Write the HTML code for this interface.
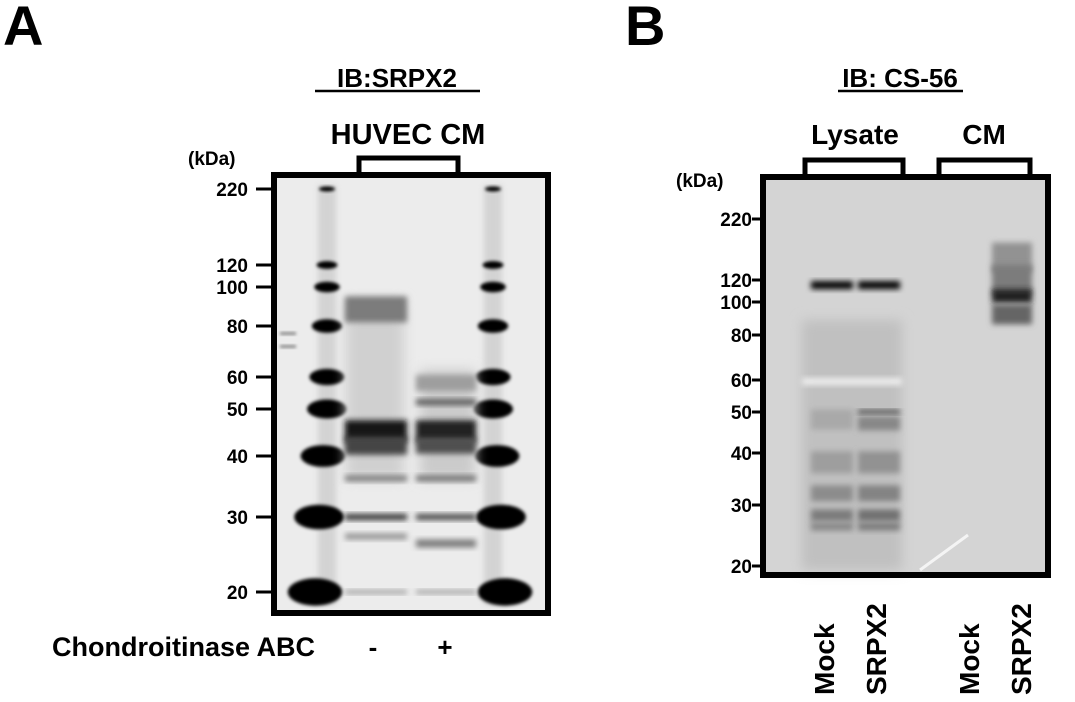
<!DOCTYPE html>
<html><head><meta charset="utf-8"><style>
html,body{margin:0;padding:0;background:#fff;}
svg{display:block;font-family:"Liberation Sans",Arial,sans-serif;font-weight:bold;}
</style></head><body>
<svg id="fig" width="1075" height="702" viewBox="0 0 1075 702">
<defs>
<filter id="b1" x="-50%" y="-50%" width="200%" height="200%"><feGaussianBlur stdDeviation="1.5"/></filter>
<filter id="b3" x="-50%" y="-50%" width="200%" height="200%"><feGaussianBlur stdDeviation="3"/></filter>
<filter id="b6" x="-50%" y="-50%" width="200%" height="200%"><feGaussianBlur stdDeviation="6"/></filter>
</defs>
<text x="3" y="45" font-size="56">A</text>
<text x="625" y="45" font-size="56">B</text>
<text x="397" y="87" font-size="26" text-anchor="middle">IB:SRPX2</text>
<line x1="315" y1="91" x2="480" y2="91" stroke="#000" stroke-width="2.5"/>
<text x="900" y="87" font-size="26" text-anchor="middle">IB: CS-56</text>
<line x1="838" y1="91" x2="963" y2="91" stroke="#000" stroke-width="2.5"/>
<text x="408" y="144" font-size="29" text-anchor="middle">HUVEC CM</text>
<path d="M359 172 V158 H458 V172" fill="none" stroke="#000" stroke-width="5"/>
<text x="855" y="144" font-size="28" text-anchor="middle">Lysate</text>
<path d="M805 174 V160 H903 V174" fill="none" stroke="#000" stroke-width="5"/>
<text x="984" y="144" font-size="28" text-anchor="middle">CM</text>
<path d="M939 174 V160 H1030 V174" fill="none" stroke="#000" stroke-width="5"/>
<text x="188" y="165" font-size="19">(kDa)</text>
<text x="676" y="187" font-size="19">(kDa)</text>
<rect x="274" y="175" width="274" height="438" fill="#ececec"/>
<rect x="763" y="177" width="285" height="398" fill="#d4d4d4"/>
<g id="gA"></g><g id="gB"></g>
<rect x="274" y="175" width="274" height="438" fill="none" stroke="#000" stroke-width="6"/>
<rect x="763" y="177" width="285" height="398" fill="none" stroke="#000" stroke-width="6"/>
<g id="axA"></g><g id="axB"></g>
<text x="52" y="656" font-size="27">Chondroitinase ABC</text>
<text x="373" y="656" font-size="26" text-anchor="middle">-</text>
<text x="445" y="656" font-size="26" text-anchor="middle">+</text>
<g font-size="28">
<text transform="translate(834,695) rotate(-90)">Mock</text>
<text transform="translate(886,695) rotate(-90)">SRPX2</text>
<text transform="translate(979,695) rotate(-90)">Mock</text>
<text transform="translate(1031,695) rotate(-90)">SRPX2</text>
</g>
</svg>
<script>
const markersA = [220,120,100,80,60,50,40,30,20];
const markersB = [220,120,100,80,60,50,40,30,20];
// sample bands: [kDa, intensity(0-1), thickness]
const laneMinus = [[88,0.45,26],[45,0.9,22],[42,0.7,18],[36,0.45,6],[30,0.8,6],[27,0.35,6],[20,0.3,4]];
const lanePlus = [[58,0.3,16],[52,0.6,6],[45,0.85,22],[42,0.65,16],[36,0.5,6],[30,0.7,6],[26,0.45,8],[20,0.3,4]];
const lysMock = [[115,1,8],[48,0.25,20],[38,0.3,22],[32,0.38,16],[28,0.45,12],[26,0.4,8]];
const lysSrpx2 = [[115,1,8],[50,0.7,4],[47,0.4,14],[38,0.35,22],[32,0.42,16],[28,0.5,12],[26,0.45,8]];
const cmSrpx2 = [[150,0.35,30],[120,0.45,30],[105,0.85,14],[92,0.55,20]];
// gel migration calibration (kDa anchors for each blot's axis)
const calA_kDa = [220,120,100,80,60,50,40,30,20];
const calA_px = [189,265,287,326,377,409,456,517,592];
const calB_px = [219,280,302,335,380,412,453,505,566];
const NS='http://www.w3.org/2000/svg';
function interp(k,dom,rng){const u=Math.log(k);
 for(let i=0;i<dom.length-1;i++){const a=Math.log(dom[i]),b=Math.log(dom[i+1]);
  if(u<=a&&u>=b||i===dom.length-2&&u<b||i===0&&u>a){return rng[i]+(u-a)/(b-a)*(rng[i+1]-rng[i]);}}
 return rng[0];}
function yA(k){return interp(k,calA_kDa,calA_px);}
function yB(k){return interp(k,calA_kDa,calB_px);}
function mk(p,tag,at){const e=document.createElementNS(NS,tag);for(const k in at)e.setAttribute(k,at[k]);p.appendChild(e);return e;}
const gA=document.getElementById('gA'),gB=document.getElementById('gB');
const axA=document.getElementById('axA'),axB=document.getElementById('axB');
mk(gA,'rect',{x:318,y:185,width:18,height:420,fill:'#bbb',opacity:0.5,filter:'url(#b3)'});
mk(gA,'rect',{x:484,y:185,width:18,height:420,fill:'#bbb',opacity:0.5,filter:'url(#b3)'});
markersA.forEach((m,i)=>{const y=yA(m);
 const t=mk(axA,'text',{x:248,y:y+7,'font-size':19,'text-anchor':'end'});t.textContent=m;
 
 
 mk(axA,'line',{x1:256,x2:273,y1:y,y2:y,stroke:'#000','stroke-width':3});
 const w=8+i*2.4,h=2.5+i*1.4;
 [327,493].forEach((cx,j)=>{const e=mk(gA,'ellipse',{cx:cx+(i>5?(j?8:-8)*(i-5)/2:0),cy:y,rx:w,ry:h,fill:'#000',filter:'url(#b1)'});
 
 });
});
mk(gA,'rect',{x:280,y:332,width:16,height:3,fill:'#888',filter:'url(#b1)'});
mk(gA,'rect',{x:280,y:345,width:16,height:3,fill:'#888',filter:'url(#b1)'});
function lane(g,arr,x0,w,yf,name){arr.forEach(b=>{const y=yf(b[0]);const v=Math.round(225*(1-b[1]));
 const r=mk(g,'rect',{x:x0,y:y-b[2]/2,width:w,height:b[2],fill:`rgb(${v},${v},${v})`,filter:'url(#b3)'});
 
 });}
mk(gA,'rect',{x:346,y:300,width:58,height:180,fill:'#d0d0d0',filter:'url(#b6)'});
mk(gA,'rect',{x:420,y:370,width:55,height:110,fill:'#cbcbcb',filter:'url(#b6)'});
lane(gA,laneMinus,345,62,yA,'band-minus');
lane(gA,lanePlus,416,60,yA,'band-plus');
markersB.forEach(m=>{const y=yB(m);
 const t=mk(axB,'text',{x:752,y:y+7,'font-size':19,'text-anchor':'end'});t.textContent=m;
 
 
 mk(axB,'line',{x1:752,x2:764,y1:y,y2:y,stroke:'#000','stroke-width':3});});
mk(gB,'rect',{x:802,y:320,width:100,height:250,fill:'#c0c0c0',filter:'url(#b6)'});
mk(gB,'rect',{x:802,y:378,width:100,height:7,fill:'#eee',filter:'url(#b3)'});
lane(gB,lysMock,811,42,yB,'band-lysate-mock');
lane(gB,lysSrpx2,858,42,yB,'band-lysate-srpx2');
lane(gB,cmSrpx2,992,40,yB,'band-cm-srpx2');
mk(gB,'line',{x1:920,y1:570,x2:968,y2:535,stroke:'#f4f4f4','stroke-width':3});
</script>
</body></html>
